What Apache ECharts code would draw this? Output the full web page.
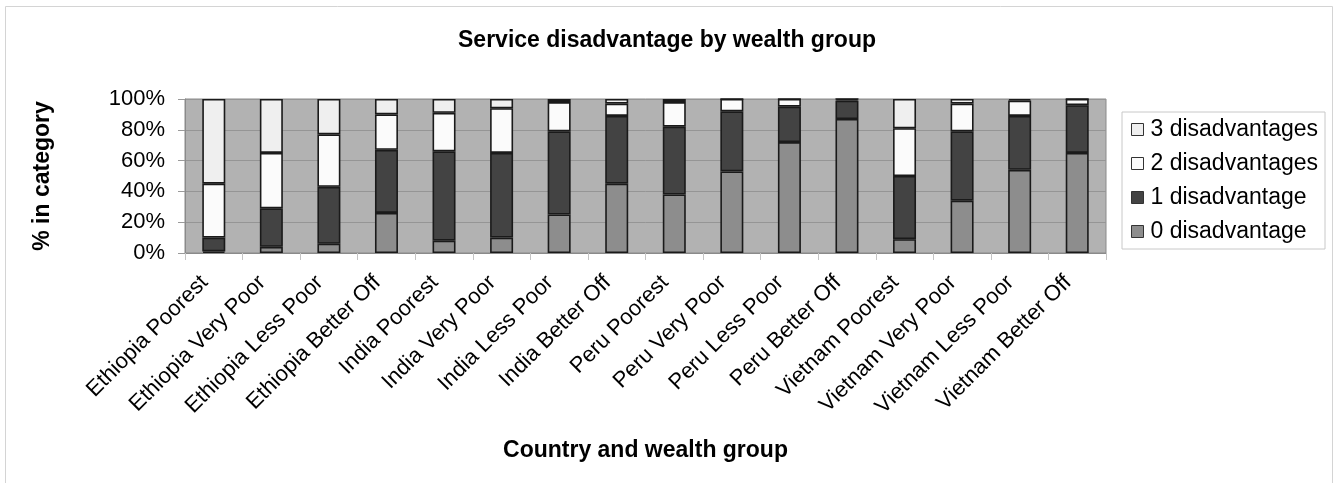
<!DOCTYPE html>
<html>
<head>
<meta charset="utf-8">
<script src="https://cdn.jsdelivr.net/npm/echarts@6/dist/echarts.min.js"></script>
<style>
  html, body { margin: 0; padding: 0; background: #ffffff; }
  #chart { width: 1334px; height: 483px; }
</style>
</head>
<body>
<div id="chart"></div>
<script>
// Country / wealth-group categories
const categories = [
  'Ethiopia Poorest', 'Ethiopia Very Poor', 'Ethiopia Less Poor', 'Ethiopia Better Off',
  'India Poorest', 'India Very Poor', 'India Less Poor', 'India Better Off',
  'Peru Poorest', 'Peru Very Poor', 'Peru Less Poor', 'Peru Better Off',
  'Vietnam Poorest', 'Vietnam Very Poor', 'Vietnam Less Poor', 'Vietnam Better Off'
];

// Share (%) of each group with 0..3 service disadvantages
const zeroDisadv  = [1, 4, 6, 26, 8, 10, 25, 45, 38, 53, 72, 87, 9, 34, 54, 65];
const oneDisadv   = [9, 25, 37, 41, 58, 55, 54, 44, 44, 39, 23, 12, 41, 45, 35, 31];
const twoDisadv   = [35, 36, 34, 23, 25, 29, 19, 8, 16, 8, 5, 1, 31, 18, 10, 4];
const threeDisadv = [55, 35, 23, 10, 9, 6, 2, 3, 2, 0, 0, 0, 19, 3, 1, 0];

const seriesNames = ['0 disadvantage', '1 disadvantage', '2 disadvantages', '3 disadvantages'];
const seriesData = [zeroDisadv, oneDisadv, twoDisadv, threeDisadv];
const seriesColors = ['#8d8d8d', '#434343', '#fbfbfb', '#efefef'];

const FONT = '"Liberation Sans", Arial, sans-serif';

const chart = echarts.init(document.getElementById('chart'));

chart.setOption({
  backgroundColor: '#ffffff',
  animation: false,
  title: {
    text: 'Service disadvantage by wealth group',
    left: 'center',
    top: 24,
    textStyle: { fontFamily: FONT, fontSize: 23, fontWeight: 'bold', color: '#000' }
  },
  graphic: [{
    type: 'rect',
    shape: { x: 5.5, y: 6.5, width: 1327, height: 490 },
    style: { fill: 'none', stroke: '#d4d4d4', lineWidth: 1 },
    silent: true,
    z: -1
  }],
  legend: {
    orient: 'vertical',
    left: 1122,
    top: 112,
    data: ['3 disadvantages', '2 disadvantages', '1 disadvantage', '0 disadvantage'],
    icon: 'rect',
    itemWidth: 12,
    itemHeight: 12,
    itemGap: 11,
    padding: [6, 7, 6, 9],
    borderColor: '#c8c8c8',
    borderWidth: 1,
    backgroundColor: '#ffffff',
    textStyle: { fontFamily: FONT, fontSize: 23, color: '#000', lineHeight: 22, padding: [0, 0, 0, 2] },
    itemStyle: { borderColor: '#333', borderWidth: 1 }
  },
  grid: {
    left: 185,
    right: 228,
    top: 99,
    bottom: 230,
    show: true,
    backgroundColor: '#b2b2b2',
    borderColor: '#8a8a8a',
    borderWidth: 1
  },
  xAxis: {
    type: 'category',
    data: categories,
    name: 'Country and wealth group',
    nameLocation: 'middle',
    nameGap: 186,
    nameTextStyle: { fontFamily: FONT, fontSize: 23, fontWeight: 'bold', color: '#000' },
    axisLine: { lineStyle: { color: '#8a8a8a' } },
    axisTick: { show: true, length: 7, lineStyle: { color: '#c4c4c4' } },
    axisLabel: {
      rotate: 45,
      interval: 0,
      margin: 17,
      padding: [0, 13, 0, 0],
      fontFamily: FONT,
      fontSize: 22,
      color: '#000'
    },
    splitLine: { show: false }
  },
  yAxis: {
    type: 'value',
    min: 0,
    max: 100,
    interval: 20,
    name: '% in category',
    nameLocation: 'middle',
    nameGap: 131,
    nameTextStyle: { fontFamily: FONT, fontSize: 23, fontWeight: 'bold', color: '#000' },
    axisLine: { show: true, lineStyle: { color: '#8a8a8a' } },
    axisTick: { show: true, length: 7, lineStyle: { color: '#9a9a9a' } },
    axisLabel: {
      formatter: '{value}%',
      margin: 20,
      fontFamily: FONT,
      fontSize: 22,
      color: '#000'
    },
    splitLine: { show: true, lineStyle: { color: '#959595', width: 1 } }
  },
  series: seriesNames.map((name, i) => ({
    name: name,
    type: 'bar',
    stack: 'share',
    data: seriesData[i],
    barWidth: 23,
    itemStyle: { color: seriesColors[i], borderColor: '#1a1a1a', borderWidth: 1.6 },
    emphasis: { disabled: true }
  }))
});
</script>
</body>
</html>
